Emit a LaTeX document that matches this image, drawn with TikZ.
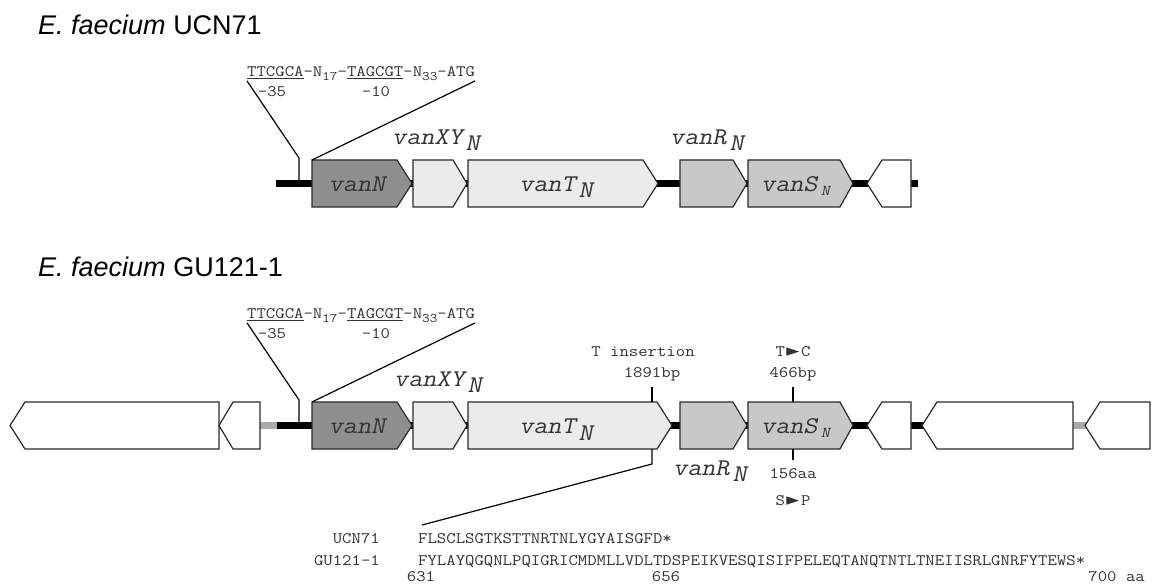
\documentclass[tikz,border=0pt]{standalone}
\usepackage{fontspec}
\setmainfont{Liberation Sans}
\newfontfamily\mono{Latin Modern Mono}[FakeStretch=1.14]
\newfontfamily\monoit{Latin Modern Mono}[FakeStretch=1.14,FakeSlant=0.21]
\newfontfamily\dvs{DejaVu Sans}
\definecolor{cN}{HTML}{8F8F8F}
\definecolor{cT}{HTML}{EBEBEB}
\definecolor{cR}{HTML}{C8C8C8}
\definecolor{cgrayline}{HTML}{AAAAAA}
\definecolor{cborder}{HTML}{2A2A2A}
\definecolor{ctext}{HTML}{333333}
\tikzset{
 gene/.style={draw=cborder, line width=1.2pt, line join=miter},
 bb/.style={line width=6.5pt, black},
 bbgray/.style={line width=6.5pt, cgrayline},
 conn/.style={line width=1.2pt, black},
 glabel/.style={inner sep=0pt, font=\monoit\fontsize{24}{24}\selectfont, text=ctext},
 small/.style={inner sep=0pt, font=\mono\fontsize{16}{16}\selectfont, text=ctext},
 title/.style={inner sep=0pt, anchor=base west, font=\fontsize{27}{27}\selectfont},
}
\newcommand{\fwd}[6]{\draw[gene,fill=#6] (#1,#4) -- (#2,#4) -- (#3,{(#4+#5)/2}) -- (#2,#5) -- (#1,#5) -- cycle;}
\newcommand{\rev}[5]{\draw[gene,fill=white] (#1,{(#4+#5)/2}) -- (#2,#4) -- (#3,#4) -- (#3,#5) -- (#2,#5) -- cycle;}
\newcommand{\gsub}[1]{\kern3pt\raisebox{-6pt}{#1}}
\newcommand{\ssub}[1]{\kern3.5pt\raisebox{-4pt}{\fontsize{15}{15}\selectfont #1}}
\newcommand{\psub}[1]{\raisebox{-3.5pt}{\fontsize{13}{13}\selectfont #1}}
\newcommand{\tri}{{\kern1.5pt\dvs\fontsize{17}{17}\selectfont ►\kern1.5pt}}
\begin{document}
\begin{tikzpicture}[x=1pt,y=-1pt]
\useasboundingbox[fill=white] (0,0) rectangle (1152,585);

% ---------------- UCN71 ----------------
\node[title] (t1) at (38,35) {{\itshape E. faecium} UCN71};
\node[small, anchor=base west] (p1) at (247,77) {\underline{TTCGCA}-N\psub{17}-\underline{TAGCGT}-N\psub{33}-ATG};
\node[small, anchor=base] (a35) at (272,97) {-35};
\node[small, anchor=base] (a10) at (376,97) {-10};

\draw[bb] (276,183.5) -- (918,183.5);
\fwd{312}{397}{412}{160}{207}{cN}
\fwd{413}{453}{467}{160}{207}{cT}
\fwd{468}{643}{658}{160}{207}{cT}
\fwd{680}{733}{747}{160}{207}{cR}
\fwd{748}{840}{853}{160}{207}{cR}
\rev{867}{882}{911}{160}{207}

\coordinate (st1) at (299,158);
\coordinate (sb1) at (299,183.5);
\coordinate (nc1) at (312,160);
\draw[conn] (p1.south west) -- (st1) -- (sb1);
\draw[conn] (p1.south east) -- (nc1);

\node[glabel, anchor=base] (n1) at (357,192) {vanN};
\node[glabel, anchor=base west] (xy1) at (392,145) {vanXY\gsub{N}};
\node[glabel, anchor=base] (vt1) at (556,192) {vanT\gsub{N}};
\node[glabel, anchor=base west] (vr1) at (670,145) {vanR\gsub{N}};
\node[glabel, anchor=base west] (vs1) at (761,192) {vanS\ssub{N}};

% ---------------- GU121-1 ----------------
\node[title] (t2) at (38,277) {{\itshape E. faecium} GU121-1};
\node[small, anchor=base west] (p2) at (247,319) {\underline{TTCGCA}-N\psub{17}-\underline{TAGCGT}-N\psub{33}-ATG};
\node[small, anchor=base] (b35) at (272,339) {-35};
\node[small, anchor=base] (b10) at (376,339) {-10};

\draw[bbgray] (255,425.5) -- (278,425.5);
\draw[bb] (277,425.5) -- (925,425.5);
\draw[bbgray] (1070,425.5) -- (1090,425.5);
\rev{10}{25}{219}{402}{449}
\rev{219}{233}{260}{402}{449}
\fwd{312}{397}{412}{402}{449}{cN}
\fwd{413}{453}{467}{402}{449}{cT}
\fwd{468}{657}{672}{402}{449}{cT}
\fwd{680}{733}{747}{402}{449}{cR}
\fwd{748}{840}{853}{402}{449}{cR}
\rev{867}{882}{911}{402}{449}
\rev{922}{937}{1073}{402}{449}
\rev{1085}{1100}{1150}{402}{449}

\coordinate (st2) at (299,400);
\coordinate (sb2) at (299,425.5);
\coordinate (nc2) at (312,402);
\draw[conn] (p2.south west) -- (st2) -- (sb2);
\draw[conn] (p2.south east) -- (nc2);

\node[glabel, anchor=base] (n2) at (357,434) {vanN};
\node[glabel, anchor=base west] (xy2) at (394,387) {vanXY\gsub{N}};
\node[glabel, anchor=base] (vt2) at (556,434) {vanT\gsub{N}};
\node[glabel, anchor=base west] (vr2) at (673,475) {vanR\gsub{N}};
\node[glabel, anchor=base west] (vs2) at (761,434) {vanS\ssub{N}};

% T insertion marker
\node[small, anchor=base] (tins) at (643,357) {T insertion};
\node[small, anchor=base] (tbp) at (652,378) {1891bp};
\coordinate (ti1) at (652,387);
\coordinate (ti2) at (652,402);
\coordinate (ti3) at (652,449);
\coordinate (ti4) at (652,464);
\coordinate (seqtop) at (422,525);
\draw[conn] (ti1) -- (ti2);
\draw[conn] (ti3) -- (ti4) -- (seqtop);

% T->C marker
\node[small, anchor=base] (tc) at (793,357) {T\tri C};
\node[small, anchor=base] (tcbp) at (793,378) {466bp};
\node[small, anchor=base] (aa) at (793,478) {156aa};
\node[small, anchor=base] (sp) at (793,505) {S\tri P};
\coordinate (m1) at (793,387);
\coordinate (m2) at (793,402);
\coordinate (m3) at (793,449);
\coordinate (m4) at (793,460);
\draw[conn] (m1) -- (m2);
\draw[conn] (m3) -- (m4);

% sequences
\node[small, anchor=base east] (lu) at (380,543) {UCN71};
\node[small, anchor=base west] (su) at (418,543) {FLSCLSGTKSTTNRTNLYGYAISGFD*};
\node[small, anchor=base east] (lg) at (380,565) {GU121-1};
\node[small, anchor=base west] (sg) at (418,565) {FYLAYQGQNLPQIGRICMDMLLVDLTDSPEIKVESQISIFPELEQTANQTNTLTNEIISRLGNRFYTEWS*};
\node[small, anchor=base] (n631) at (421,581) {631};
\node[small, anchor=base] (n656) at (666,581) {656};
\node[small, anchor=base east] (n700) at (1145,581) {700 aa};
\end{tikzpicture}
\end{document}
